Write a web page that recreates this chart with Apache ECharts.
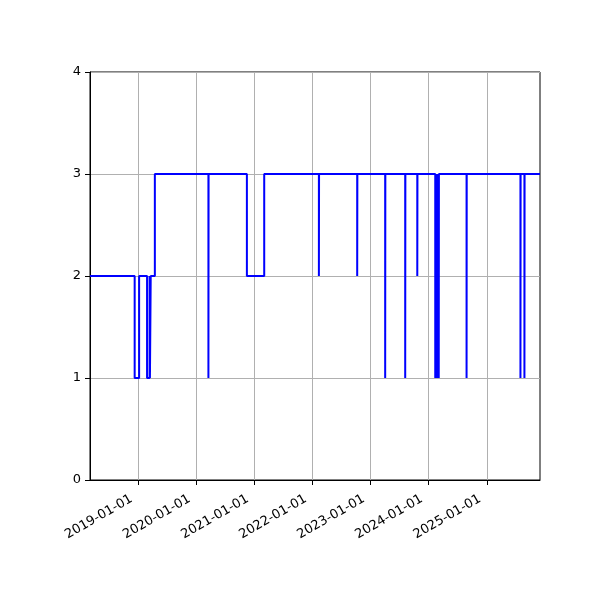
<!DOCTYPE html>
<html>
<head>
<meta charset="utf-8">
<script src="https://cdn.jsdelivr.net/npm/echarts@6/dist/echarts.min.js"></script>
<style>
  body { margin: 0; background: #fff; }
  #main { width: 600px; height: 600px; }
</style>
</head>
<body>
<div id="main"></div>
<script>
// change points of the step line, each value holds until the next date
var changeDates = [
  '2018-03-02', '2018-12-08', '2019-01-05', '2019-02-24', '2019-03-12',
  '2019-03-14', '2019-03-19', '2019-04-14', '2020-03-16', '2020-03-17',
  '2020-11-13', '2021-03-02', '2022-02-09', '2022-02-10', '2022-10-08',
  '2022-10-09', '2023-04-02', '2023-04-03', '2023-08-06', '2023-08-07',
  '2023-10-21', '2023-10-22', '2024-02-11', '2024-02-12', '2024-02-19',
  '2024-02-20', '2024-02-27', '2024-02-28', '2024-03-04', '2024-03-05',
  '2024-08-26', '2024-08-27', '2025-07-31', '2025-08-01', '2025-08-25',
  '2025-08-26', '2025-12-01'
];
var changeValues = [
  2, 1, 2, 1, 2,
  1, 2, 3, 1, 3,
  2, 3, 2, 3, 2,
  3, 1, 3, 1, 3,
  2, 3, 1, 3, 1,
  3, 1, 3, 1, 3,
  1, 3, 1, 3, 1,
  3, 3
];
var xTicks = ['2019-01-01', '2020-01-01', '2021-01-01', '2022-01-01',
  '2023-01-01', '2024-01-01', '2025-01-01'];
var yTicks = [0, 1, 2, 3, 4];

function toTime(d) {
  return +new Date(d + 'T00:00:00Z');
}

var chartDom = document.getElementById('main');
var myChart = echarts.init(chartDom);

var points = changeDates.map(function (d, i) {
  return [toTime(d), changeValues[i]];
});
var tickTimes = xTicks.map(toTime);

var option = {
  animation: false,
  textStyle: { fontFamily: 'DejaVu Sans' },
  grid: {
    left: 90, right: 60, top: 72, bottom: 120,
    show: true, borderColor: '#000', borderWidth: 1, backgroundColor: 'transparent'
  },
  xAxis: {
    type: 'value',
    min: toTime(changeDates[0]),
    max: toTime(changeDates[changeDates.length - 1]),
    axisLine: { show: true, onZero: false, lineStyle: { color: '#000', width: 1 } },
    axisTick: { show: true, length: 5, lineStyle: { color: '#000' }, customValues: tickTimes },
    axisLabel: {
      customValues: tickTimes,
      rotate: 30,
      color: '#000',
      fontSize: 13,
      margin: 14,
      padding: [0, 8, 0, 0],
      formatter: function (v) {
        return echarts.time.format(v, '{yyyy}-{MM}-{dd}', true);
      }
    },
    splitLine: { show: true, lineStyle: { color: '#b0b0b0', width: 1 } }
  },
  yAxis: {
    type: 'value',
    min: yTicks[0],
    max: yTicks[yTicks.length - 1],
    interval: 1,
    axisLine: { show: true, lineStyle: { color: '#000', width: 1 } },
    axisTick: { show: true, length: 5, lineStyle: { color: '#000' } },
    axisLabel: { color: '#000', fontSize: 13, margin: 9 },
    splitLine: { show: true, lineStyle: { color: '#b0b0b0', width: 1 } }
  },
  series: [
    {
      type: 'line',
      step: 'end',
      data: points,
      showSymbol: false,
      lineStyle: { color: '#0000ff', width: 2 },
      itemStyle: { color: '#0000ff' }
    }
  ]
};

myChart.setOption(option);
</script>
</body>
</html>
